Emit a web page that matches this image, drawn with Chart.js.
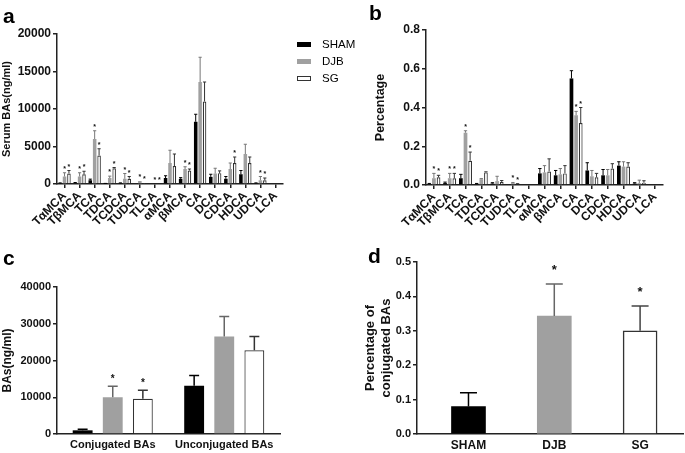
<!DOCTYPE html>
<html>
<head>
<meta charset="utf-8">
<script src="https://cdn.jsdelivr.net/npm/chart.js@4.4.1/dist/chart.umd.min.js"></script>
<style>
  body { margin: 0; background: #fff; font-family: 'Liberation Sans', Arial, sans-serif; }
  #wrap { position: relative; width: 685px; height: 453px; overflow: hidden; }
  canvas, .txt, .box { position: absolute; }
  .letter { font-weight: bold; font-size: 21px; line-height: 1; }
  .leg { font-size: 11.5px; line-height: 1; }
  .box { width: 14px; height: 5px; }
</style>
</head>
<body>
<div id="wrap">
  <canvas id="chartA" width="290" height="240" style="left:0;top:0"></canvas>
  <canvas id="chartB" width="325" height="240" style="left:360px;top:0"></canvas>
  <canvas id="chartC" width="340" height="213" style="left:0;top:240px"></canvas>
  <canvas id="chartD" width="345" height="213" style="left:340px;top:240px"></canvas>

  <div class="txt letter" style="left:3px;top:5px">a</div>
  <div class="txt letter" style="left:369px;top:2px">b</div>
  <div class="txt letter" style="left:3px;top:247px">c</div>
  <div class="txt letter" style="left:368px;top:245px">d</div>

  <div class="box" style="left:297px;top:42px;background:#000"></div>
  <div class="txt leg" style="left:322px;top:39px">SHAM</div>
  <div class="box" style="left:297px;top:59px;background:#a0a0a0"></div>
  <div class="txt leg" style="left:322px;top:56px">DJB</div>
  <div class="box" style="left:297px;top:76px;width:12px;height:3px;background:#fff;border:1px solid #333"></div>
  <div class="txt leg" style="left:322px;top:73px">SG</div>
</div>
<script>
// --- DATA ---
const groupNames = ['SHAM', 'DJB', 'SG'];
const acids = ['TαMCA', 'TβMCA', 'TCA', 'TDCA', 'TCDCA', 'TUDCA', 'TLCA', 'αMCA', 'βMCA', 'CA', 'DCA', 'CDCA', 'HDCA', 'UDCA', 'LCA'];

// panel a: serum BAs (ng/ml)
const serumSham    = [100, 150, 500, 50, 100, 0, 0, 800, 700, 8300, 950, 700, 1300, 100, 0];
const serumShamErr = [50, 50, 150, 30, 50, 0, 0, 300, 150, 1000, 350, 300, 500, 50, 0];
const serumDjb     = [1000, 1000, 6000, 800, 700, 400, 0, 2800, 2000, 13600, 1400, 2000, 4000, 500, 0];
const serumDjbErr  = [500, 500, 1100, 250, 700, 0, 0, 1700, 300, 3300, 700, 800, 1300, 500, 0];
const serumSg      = [1400, 1300, 3800, 2100, 700, 150, 0, 2400, 1800, 11000, 1450, 2800, 2800, 500, 0];
const serumSgErr   = [400, 400, 900, 100, 300, 0, 0, 1600, 200, 2600, 300, 800, 800, 300, 0];
const serumDjbStar = [1, 1, 1, 1, 1, 1, 1, 0, 1, 0, 0, 0, 0, 1, 0];
const serumSgStar  = [1, 1, 1, 1, 1, 1, 1, 0, 1, 0, 0, 1, 0, 1, 0];

// panel b: percentage
const pctSham    = [0.005, 0.01, 0.035, 0.005, 0.008, 0, 0, 0.06, 0.05, 0.55, 0.075, 0.05, 0.10, 0.008, 0];
const pctShamErr = [0.003, 0.005, 0.02, 0.003, 0.004, 0, 0, 0.025, 0.025, 0.04, 0.04, 0.03, 0.02, 0.004, 0];
const pctDjb     = [0.035, 0.035, 0.27, 0.03, 0.02, 0.01, 0, 0.065, 0.055, 0.36, 0.045, 0.05, 0.095, 0.01, 0];
const pctDjbErr  = [0.025, 0.025, 0.01, 0.003, 0.025, 0.003, 0, 0.035, 0.03, 0.02, 0.03, 0.03, 0.025, 0.015, 0];
const pctSg      = [0.04, 0.035, 0.125, 0.065, 0.015, 0.005, 0, 0.07, 0.06, 0.32, 0.04, 0.085, 0.095, 0.012, 0];
const pctSgErr   = [0.01, 0.025, 0.045, 0.003, 0.008, 0.002, 0, 0.065, 0.04, 0.08, 0.02, 0.025, 0.02, 0.01, 0];
const pctDjbStar = [1, 1, 1, 0, 0, 1, 0, 0, 0, 1, 0, 0, 0, 0, 0];
const pctSgStar  = [1, 1, 1, 0, 0, 1, 0, 0, 0, 1, 0, 0, 0, 0, 0];

// panel c: conjugated / unconjugated
const bileGroups = ['Conjugated BAs', 'Unconjugated BAs'];
const bileSham = [1000, 13100], bileShamErr = [300, 2800];
const bileDjb  = [10000, 26500], bileDjbErr = [3000, 5500];
const bileSg   = [9600, 22800], bileSgErr  = [2300, 3700];
const bileDjbStar = [1, 0], bileSgStar = [1, 0];

// panel d: percentage of conjugated BAs
const conjPct    = [0.08, 0.343, 0.30];
const conjPctErr = [0.04, 0.093, 0.072];
const conjStar   = [0, 1, 1];

// --- STYLE ---
const fillCols = ['#000000', '#a0a0a0', '#ffffff'];
const edgeCols = ['#000000', '#a0a0a0', '#333333'];
const errCols  = ['#000000', '#777777', '#333333'];
const FONT = "'Liberation Sans', Arial, sans-serif";
Chart.defaults.font.family = FONT;
Chart.defaults.color = '#111';
Chart.defaults.animation = false;

// error bars + significance stars
const errorBars = {
  id: 'errorBars',
  afterDatasetsDraw(chart, args, opts) {
    const ctx = chart.ctx;
    const ys = chart.scales.y;
    chart.data.datasets.forEach((ds, d) => {
      const meta = chart.getDatasetMeta(d);
      meta.data.forEach((bar, i) => {
        const raw = ds.data[i];
        const v = typeof raw === 'object' ? raw.y : raw;
        const e = opts.errors[d][i];
        const colour = Array.isArray(opts.colours[d]) ? opts.colours[d][i] : opts.colours[d];
        const top = ys.getPixelForValue(v + e);
        ctx.save();
        ctx.strokeStyle = colour;
        ctx.lineWidth = opts.lineWidth;
        if (e > 0) {
          const cw = bar.width * opts.capRatio / 2;
          ctx.beginPath();
          ctx.moveTo(bar.x, bar.y);
          ctx.lineTo(bar.x, top);
          ctx.moveTo(bar.x - cw, top);
          ctx.lineTo(bar.x + cw, top);
          ctx.stroke();
        }
        if (opts.stars[d] && opts.stars[d][i]) {
          ctx.fillStyle = '#111';
          ctx.font = opts.starFont;
          ctx.textAlign = 'center';
          ctx.textBaseline = 'alphabetic';
          ctx.fillText('*', bar.x, top - opts.starGap);
        }
        ctx.restore();
      });
    });
  }
};

function fixW(w) { return s => { s.width = w; }; }
function fixH(h) { return s => { s.height = h; }; }

function groupSets(series) {
  return series.map((vals, d) => ({
    label: groupNames[d],
    data: vals,
    backgroundColor: fillCols[d],
    borderColor: edgeCols[d],
    borderWidth: d === 2 ? 1.2 : 0,
    categoryPercentage: series.catPct,
    barPercentage: series.barPct
  }));
}

function yAxis(max, step, width, title, tickSize, titleSize, decimals) {
  return {
    min: 0, max: max,
    afterFit: fixW(width),
    ticks: {
      stepSize: step,
      font: { size: tickSize, weight: 'bold' },
      color: '#111',
      padding: 2,
      callback: v => decimals ? v.toFixed(decimals) : v
    },
    grid: { drawOnChartArea: false, drawTicks: true, tickLength: 4, color: '#222', lineWidth: 1.5 },
    border: { display: true, color: '#222', width: 1.5 },
    title: { display: true, text: title, font: { size: titleSize, weight: 'bold' }, color: '#111', padding: 0 }
  };
}

function smallBars(id, series, errs, stars, yOpts, xHeight, pad) {
  series.catPct = 0.88; series.barPct = 0.8;
  new Chart(document.getElementById(id), {
    type: 'bar',
    data: { labels: acids, datasets: groupSets(series) },
    options: {
      responsive: false,
      layout: { padding: pad },
      scales: {
        x: {
          afterFit: fixH(xHeight),
          ticks: { minRotation: 45, maxRotation: 45, font: { size: 12, weight: 'bold' }, color: '#111', padding: 1, autoSkip: false },
          grid: { offset: false, drawOnChartArea: false, drawTicks: true, tickLength: 4, color: '#222', lineWidth: 1.5 },
          border: { display: true, color: '#222', width: 1.5 }
        },
        y: yOpts
      },
      plugins: {
        legend: { display: false },
        tooltip: { enabled: false },
        errorBars: { errors: errs, stars: stars, colours: errCols, capRatio: 0.9, lineWidth: 1, starFont: 'bold 7px ' + FONT, starGap: 2 }
      }
    },
    plugins: [errorBars]
  });
}

// panel a
smallBars('chartA', [serumSham, serumDjb, serumSg], [serumShamErr, serumDjbErr, serumSgErr],
  [null, serumDjbStar, serumSgStar],
  yAxis(20000, 5000, 57, 'Serum BAs(ng/ml)', 12, 11, 0), 56, { top: 34, right: 7, left: 0, bottom: 0 });

// panel b
smallBars('chartB', [pctSham, pctDjb, pctSg], [pctShamErr, pctDjbErr, pctSgErr],
  [null, pctDjbStar, pctSgStar],
  yAxis(0.8, 0.2, 53, 'Percentage', 12, 12.5, 1), 55, { top: 30, right: 22, left: 13, bottom: 0 });

// panel c
const bileSeries = [bileSham, bileDjb, bileSg];
bileSeries.catPct = 0.81; bileSeries.barPct = 0.66;
new Chart(document.getElementById('chartC'), {
  type: 'bar',
  data: { labels: bileGroups, datasets: groupSets(bileSeries) },
  options: {
    responsive: false,
    layout: { padding: { top: 47, right: 60, left: 0, bottom: 0 } },
    scales: {
      x: {
        afterFit: fixH(19),
        ticks: { font: { size: 11, weight: 'bold' }, color: '#111', padding: 4 },
        grid: { display: false, drawTicks: false },
        border: { display: true, color: '#222', width: 1.5 }
      },
      y: yAxis(40000, 10000, 57, 'BAs(ng/ml)', 11, 12, 0)
    },
    plugins: {
      legend: { display: false },
      tooltip: { enabled: false },
      errorBars: { errors: [bileShamErr, bileDjbErr, bileSgErr], stars: [null, bileDjbStar, bileSgStar], colours: ['#000', '#666', '#333'], capRatio: 0.5, lineWidth: 1.5, starFont: 'bold 10px ' + FONT, starGap: 4 }
    }
  },
  plugins: [errorBars]
});

// panel d
new Chart(document.getElementById('chartD'), {
  type: 'bar',
  data: {
    datasets: [{
      data: conjPct.map((v, i) => ({ x: i, y: v })),
      backgroundColor: fillCols,
      borderColor: edgeCols,
      borderWidth: [0, 0, 1.5],
      barThickness: 34
    }]
  },
  options: {
    responsive: false,
    layout: { padding: { top: 22, right: 2, left: 23, bottom: 0 } },
    scales: {
      x: {
        type: 'linear', min: -0.6, max: 2.5, offset: false,
        afterFit: fixH(19),
        afterBuildTicks: s => { s.ticks = groupNames.map((n, i) => ({ value: i })); },
        ticks: { font: { size: 12, weight: 'bold' }, color: '#111', padding: 4, callback: v => groupNames[v] },
        grid: { display: false, drawTicks: false },
        border: { display: true, color: '#222', width: 1.5 }
      },
      y: yAxis(0.5, 0.1, 54, ['Percentage of', 'conjugated BAs'], 11, 13, 1)
    },
    plugins: {
      legend: { display: false },
      tooltip: { enabled: false },
      errorBars: { errors: [conjPctErr], stars: [conjStar], colours: [['#000', '#666', '#444']], capRatio: 0.5, lineWidth: 1.5, starFont: 'bold 13px ' + FONT, starGap: 10 }
    }
  },
  plugins: [errorBars]
});
</script>
</body>
</html>
